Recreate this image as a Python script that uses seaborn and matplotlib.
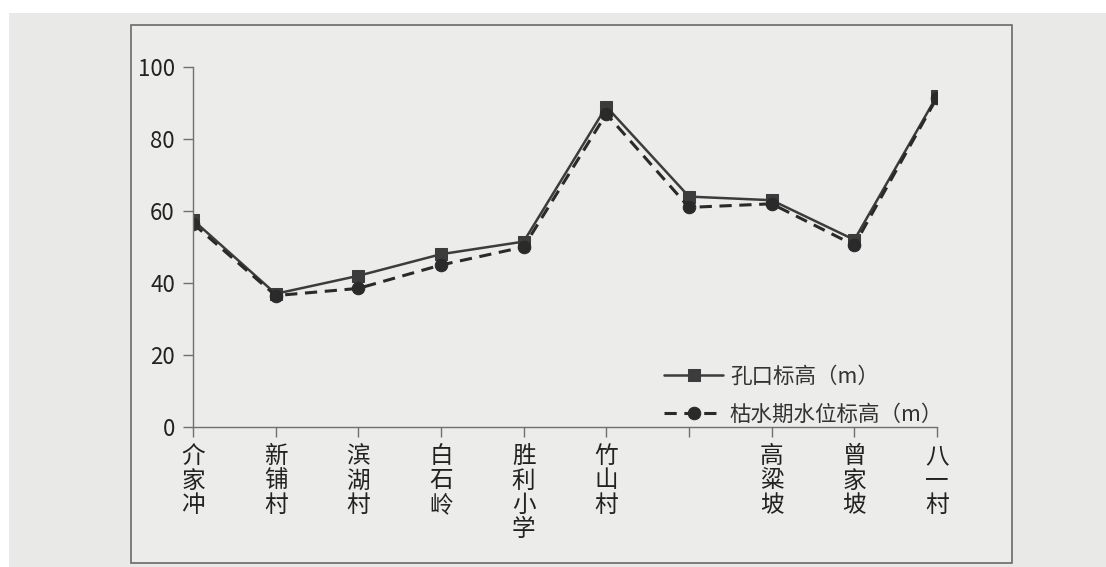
import pandas as pd
import matplotlib.pyplot as plt
import seaborn as sns
from matplotlib.patches import Rectangle

# data
categories = ['介家冲', '新铺村', '滨湖村', '白石岭', '胜利小学', '竹山村', '', '高粱坡', '曾家坡', '八一村']
kongkou = [57.5, 37, 42, 48, 51.5, 89, 64, 63, 52, 92]
kushui = [56.5, 36.5, 38.5, 45, 50, 87, 61, 62, 50.5, 91.5]
yticks = [0, 20, 40, 60, 80, 100]
label_solid = '孔口标高（m）'
label_dash = '枯水期水位标高（m）'

dataFrame = pd.DataFrame({
    'pos': list(range(len(categories))),
    'kongkou': kongkou,
    'kushui': kushui,
})

sns.set_style('white')
plt.rcParams['font.family'] = ['Noto Sans CJK SC', 'DejaVu Sans']

W, H = 1106, 567
fig = plt.figure(figsize=(W / 100, H / 100), dpi=100)
fig.patch.set_facecolor('white')

# paper background and chart frame (behind the axes)
fig.patches.append(Rectangle((9 / W, 0), 1 - 9 / W, 1 - 13 / H, transform=fig.transFigure,
                             facecolor='#e9e9e7', edgecolor='none', zorder=-3))
fig.patches.append(Rectangle((131 / W, (H - 563) / H), (1012 - 131) / W, (563 - 25) / H,
                             transform=fig.transFigure, facecolor='#ececea',
                             edgecolor='#6a6a6a', linewidth=1.2, zorder=-2))

ax = fig.add_axes([193 / W, (H - 427) / H, (937 - 193) / W, (427 - 67) / H])
ax.set_facecolor('none')

line_color = '#3c3c3c'
sns.lineplot(data=dataFrame, x='pos', y='kongkou', ax=ax, color=line_color, linewidth=1.8,
             marker='s', markersize=8, markeredgecolor=line_color, sort=False, label=label_solid)
sns.lineplot(data=dataFrame, x='pos', y='kushui', ax=ax, color='#2a2a2a', linewidth=2.2,
             linestyle=(0, (4, 2.5)), marker='o', markersize=9, markeredgecolor='#2a2a2a',
             sort=False, label=label_dash)

ax.set_xlim(0, len(categories) - 1)
ax.set_ylim(0, 100)
ax.set_yticks(yticks)
ax.set_xticks(range(len(categories)))
ax.set_xticklabels(['\n'.join(c) for c in categories], va='top', linespacing=1.08)
ax.set_xlabel('')
ax.set_ylabel('')

for s in ['top', 'right']:
    ax.spines[s].set_visible(False)
for s in ['left', 'bottom']:
    ax.spines[s].set_color('#707070')
    ax.spines[s].set_linewidth(1.0)

ax.tick_params(axis='y', direction='out', length=7, width=1, color='#707070',
               labelsize=16, labelcolor='#222222', pad=6)
ax.tick_params(axis='x', direction='out', length=7, width=1, color='#707070',
               labelsize=17, labelcolor='#222222', pad=6)
ax.tick_params(left=True, bottom=True)

ax.legend(loc='lower right', bbox_to_anchor=(1.02, -0.02), borderaxespad=0, frameon=False,
          fontsize=15.5, handlelength=2.75, labelspacing=0.75, handletextpad=0.3,
          labelcolor='#333333')

plt.savefig('out.png', dpi=100)
